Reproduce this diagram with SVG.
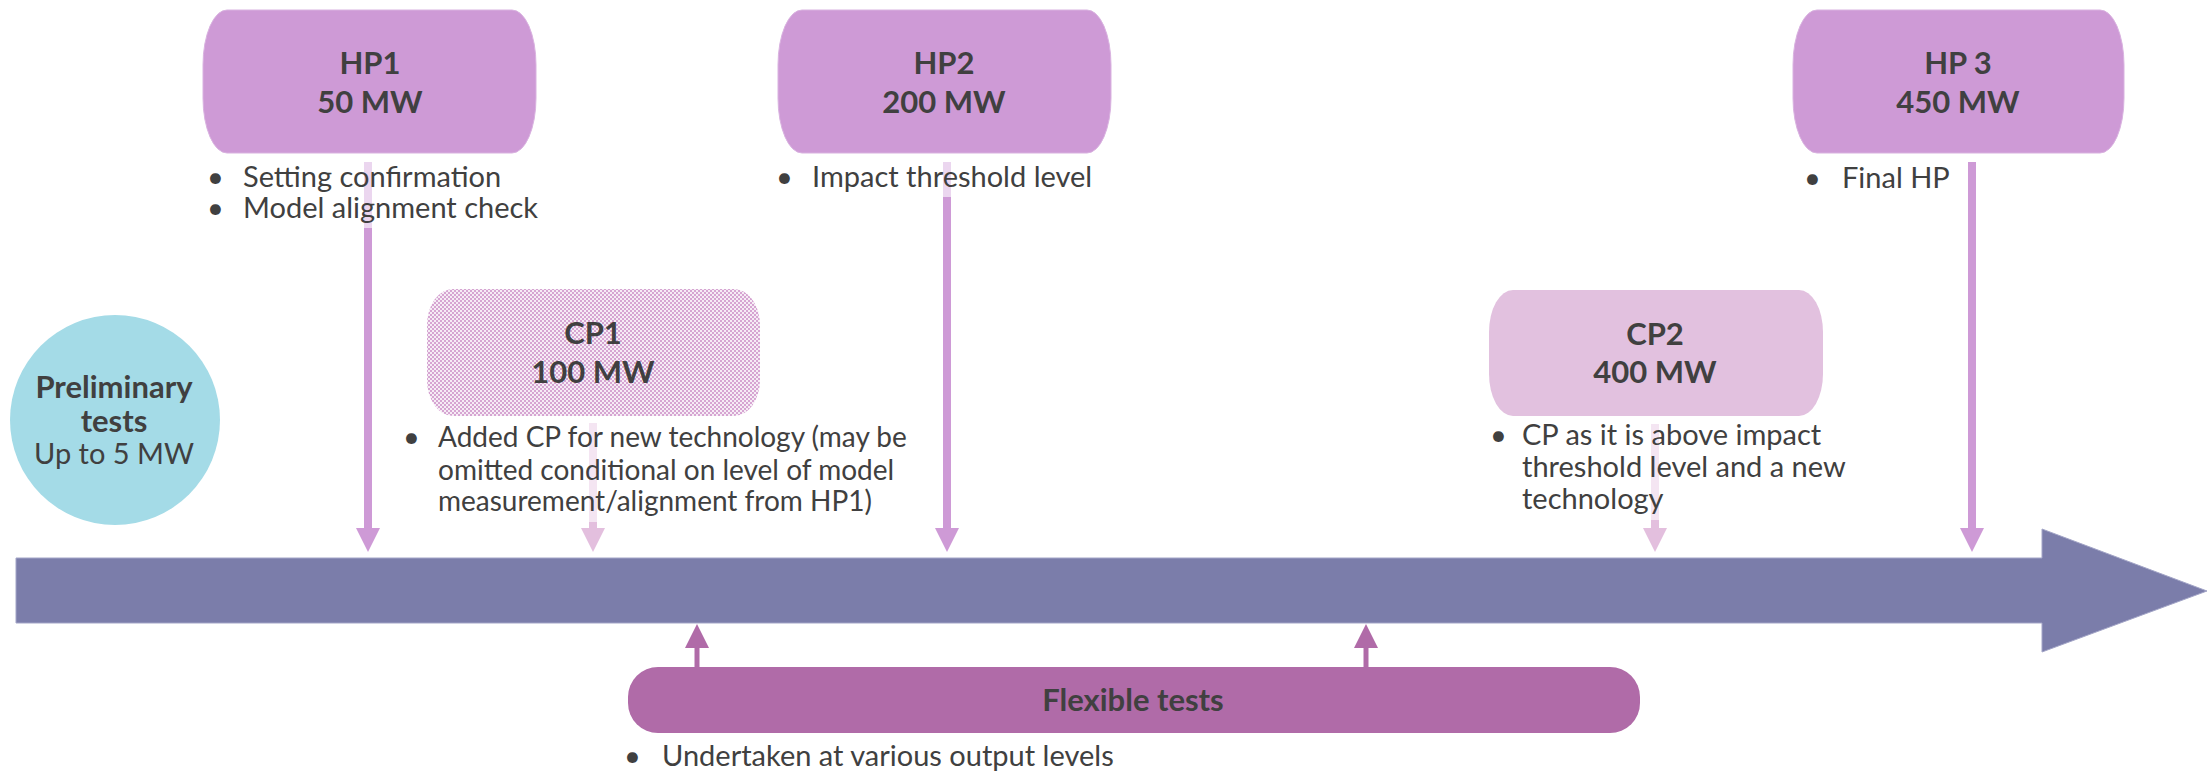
<svg xmlns="http://www.w3.org/2000/svg" width="2208" height="772" viewBox="0 0 2208 772">
  <style>
    .hp { fill: #CE9AD6; stroke: #D9B2E0; stroke-width: 1; }
    .cp2 { fill: #E2C1DF; }
    .flex { fill: #B06BA8; }
    .title { font-family: Lato, "Liberation Sans", sans-serif; font-weight: bold; font-size: 31px; fill: #404040; text-anchor: middle; }
    .body { font-family: Lato, "Liberation Sans", sans-serif; font-size: 29px; fill: #404040; }
    .body-sm { font-size: 28px; }
    .backdrop { fill: #FFFFFF; fill-opacity: 0.6; }
    .link-hp { stroke: #CE9AD6; stroke-width: 8; fill: none; }
    .link-cp { stroke: #E3BFDE; stroke-width: 8; fill: none; }
    .link-flex { stroke: #B06BA8; stroke-width: 5; fill: none; }
  </style>
  <defs>
    <marker id="head-hp" markerUnits="userSpaceOnUse" markerWidth="24" markerHeight="24" refX="0" refY="12" orient="auto">
      <path d="M0,0 L24,12 L0,24 z" fill="#CE9AD6"/>
    </marker>
    <marker id="head-cp" markerUnits="userSpaceOnUse" markerWidth="24" markerHeight="24" refX="0" refY="12" orient="auto">
      <path d="M0,0 L24,12 L0,24 z" fill="#E3BFDE"/>
    </marker>
    <marker id="head-flex" markerUnits="userSpaceOnUse" markerWidth="24" markerHeight="24" refX="0" refY="12" orient="auto">
      <path d="M0,0 L24,12 L0,24 z" fill="#B06BA8"/>
    </marker>
    <pattern id="checker" width="4" height="4" patternUnits="userSpaceOnUse">
      <rect width="4" height="4" fill="#F6ECF5"/>
      <rect width="2" height="2" fill="#D6A5D2"/>
      <rect x="2" y="2" width="2" height="2" fill="#D6A5D2"/>
    </pattern>
  </defs>

  <rect width="2208" height="772" fill="#FFFFFF"/>

  <!-- timeline arrow -->
  <g id="timeline">
    <path d="M16,558 L2042,558 L2042,529 L2207,591 L2042,652 L2042,623 L16,623 Z" fill="#7B7DAA" stroke="#A3A5C7" stroke-width="1"/>
  </g>

  <!-- connectors -->
  <g id="connectors">
    <line class="link-hp" x1="368" y1="162" x2="368" y2="528" marker-end="url(#head-hp)"/>
    <line class="link-hp" x1="947" y1="162" x2="947" y2="528" marker-end="url(#head-hp)"/>
    <line class="link-hp" x1="1972" y1="162" x2="1972" y2="528" marker-end="url(#head-hp)"/>
    <line class="link-cp" x1="593" y1="423" x2="593" y2="528" marker-end="url(#head-cp)"/>
    <line class="link-cp" x1="1655" y1="424" x2="1655" y2="528" marker-end="url(#head-cp)"/>
    <line class="link-flex" x1="697" y1="668" x2="697" y2="648" marker-end="url(#head-flex)"/>
    <line class="link-flex" x1="1366" y1="668" x2="1366" y2="648" marker-end="url(#head-flex)"/>
  </g>

  <!-- preliminary tests -->
  <g id="preliminary">
    <circle cx="115" cy="420" r="105" fill="#A4DBE7"/>
    <text class="title" x="114" y="398">Preliminary</text>
    <text class="title" x="114" y="432">tests</text>
    <text class="body" x="114" y="464" text-anchor="middle">Up to 5 MW</text>
  </g>

  <!-- hold point 1 -->
  <g id="hp1">
    <rect class="hp" x="203" y="10" width="333" height="143" rx="24" ry="55"/>
    <text class="title" x="370" y="74">HP1</text>
    <text class="title" x="370" y="113">50 MW</text>
    <rect class="backdrop" x="205" y="162" width="340" height="66"/>
    <text class="body" x="207" y="187">•</text>
    <text class="body" x="243" y="187">Setting confirmation</text>
    <text class="body" x="207" y="218">•</text>
    <text class="body" x="243" y="218">Model alignment check</text>
  </g>

  <!-- hold point 2 -->
  <g id="hp2">
    <rect class="hp" x="778" y="10" width="333" height="143" rx="24" ry="55"/>
    <text class="title" x="944" y="74">HP2</text>
    <text class="title" x="944" y="113">200 MW</text>
    <rect class="backdrop" x="776" y="162" width="320" height="35"/>
    <text class="body" x="776" y="187">•</text>
    <text class="body" x="812" y="187">Impact threshold level</text>
  </g>

  <!-- hold point 3 -->
  <g id="hp3">
    <rect class="hp" x="1793" y="10" width="331" height="143" rx="24" ry="55"/>
    <text class="title" x="1958" y="74">HP 3</text>
    <text class="title" x="1958" y="113">450 MW</text>
    <text class="body" x="1804" y="188">•</text>
    <text class="body" x="1842" y="188">Final HP</text>
  </g>

  <!-- conditional point 1 -->
  <g id="cp1">
    <rect x="427" y="289" width="333" height="127" rx="26" ry="36" fill="url(#checker)"/>
    <text class="title" x="593" y="344">CP1</text>
    <text class="title" x="593" y="383">100 MW</text>
    <rect class="backdrop" x="400" y="423" width="535" height="99"/>
    <text class="body" x="403" y="447">•</text>
    <text class="body body-sm" x="438" y="447">Added CP for new technology (may be</text>
    <text class="body body-sm" x="438" y="480">omitted conditional on level of model</text>
    <text class="body body-sm" x="438" y="511">measurement/alignment from HP1)</text>
  </g>

  <!-- conditional point 2 -->
  <g id="cp2">
    <rect class="cp2" x="1489" y="290" width="334" height="126" rx="24" ry="42"/>
    <text class="title" x="1655" y="345">CP2</text>
    <text class="title" x="1655" y="383">400 MW</text>
    <rect class="backdrop" x="1486" y="424" width="380" height="96"/>
    <text class="body" x="1490" y="445">•</text>
    <text class="body" x="1522" y="445">CP as it is above impact</text>
    <text class="body" x="1522" y="477">threshold level and a new</text>
    <text class="body" x="1522" y="509">technology</text>
  </g>

  <!-- flexible tests -->
  <g id="flexible">
    <rect class="flex" x="628" y="667" width="1012" height="66" rx="30" ry="30"/>
    <text class="title" x="1133" y="711">Flexible tests</text>
    <text class="body" x="624" y="766">•</text>
    <text class="body" x="662" y="766">Undertaken at various output levels</text>
  </g>
</svg>
